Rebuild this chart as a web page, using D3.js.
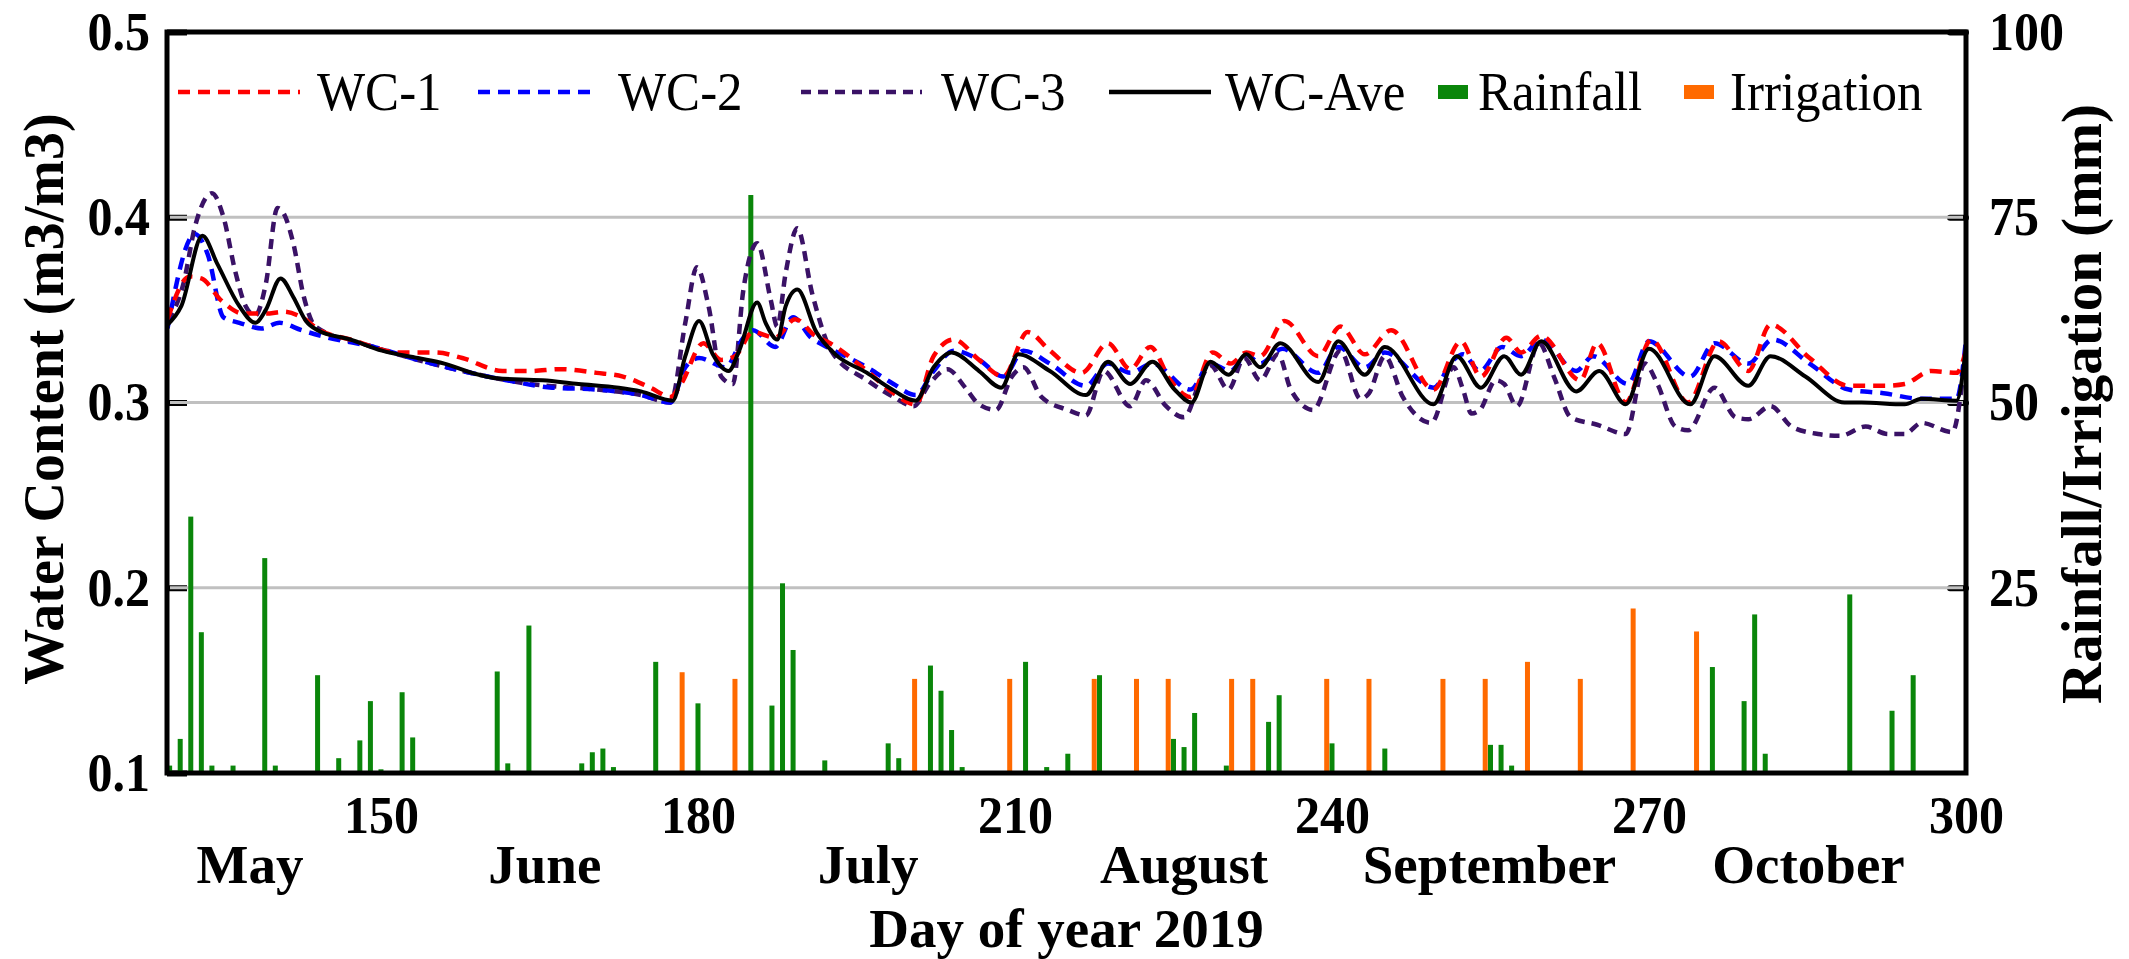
<!DOCTYPE html>
<html><head><meta charset="utf-8">
<script src="https://cdn.jsdelivr.net/npm/d3@7"></script>
<style>html,body{margin:0;padding:0;background:#fff;} svg{display:block;}</style>
</head><body>
<svg id="chart" width="2129" height="959"></svg>
<script>
// ---------------- DATA ----------------
const wcAveDays = [129.8,131.1,133.1,134.5,136.6,138.1,139.1,140.5,141.7,142.9,144,147.1,150.1,153.5,156,158.6,161.1,165.3,168.7,172.5,174.6,177.6,178.8,180.1,181.4,182.9,183.9,185.6,186.4,187.5,188.3,189.4,191.2,193,196,198.1,200.6,202.3,204,206.6,208.7,210.3,213.3,216.7,218.8,220.9,223,225.1,226.7,228.5,230.2,231.9,233.2,235.1,238.7,240.6,243.1,245,249.6,251.8,254.1,256.3,257.9,259.8,263.1,265.3,267.8,270,273.9,276.2,279.4,281.5,284.8,288.5,290.1,294.2,295.8,299.1,300];
const wcAve = [0.342,0.352,0.390,0.375,0.352,0.343,0.350,0.367,0.357,0.344,0.339,0.334,0.328,0.324,0.321,0.316,0.313,0.312,0.310,0.308,0.306,0.301,0.325,0.344,0.326,0.317,0.328,0.354,0.343,0.334,0.352,0.361,0.338,0.326,0.316,0.308,0.301,0.319,0.327,0.317,0.308,0.326,0.317,0.304,0.322,0.310,0.322,0.307,0.300,0.322,0.315,0.326,0.319,0.332,0.311,0.333,0.315,0.330,0.299,0.325,0.308,0.325,0.315,0.333,0.306,0.317,0.299,0.329,0.299,0.325,0.309,0.325,0.314,0.300,0.300,0.299,0.302,0.301,0.330];

const wc1Days = [129.8,131.9,133,134.9,137,139.1,140.8,142.5,144.2,147.1,151.8,155.2,157.7,161.5,164.1,167,170.4,172.9,175.5,177.4,178.4,180.5,182.2,183.5,185.2,187.3,189.2,191.1,192.5,196,198.5,200.6,202.3,204.2,206.6,208.9,211.2,213.3,216.3,218.8,220.9,222.8,224.7,226.6,228.7,230.4,231.9,233.2,235.5,238.7,240.8,243.1,245.6,249.6,252.2,254.1,256.5,257.9,259.8,263.5,265.1,267.8,270.2,273.7,276.6,279.4,281.5,285.2,288.9,292.2,294.2,296.7,299.1,300];
const wc1 = [0.345,0.368,0.367,0.355,0.348,0.348,0.349,0.346,0.339,0.334,0.327,0.327,0.324,0.317,0.317,0.318,0.316,0.314,0.308,0.303,0.310,0.332,0.323,0.325,0.338,0.335,0.345,0.336,0.332,0.317,0.305,0.299,0.325,0.334,0.323,0.314,0.338,0.328,0.316,0.332,0.318,0.330,0.312,0.303,0.327,0.321,0.327,0.325,0.344,0.325,0.341,0.326,0.339,0.307,0.333,0.314,0.335,0.327,0.336,0.312,0.332,0.300,0.334,0.300,0.333,0.317,0.342,0.324,0.309,0.309,0.310,0.317,0.316,0.328];

const wc2Days = [129.8,132.4,133.6,135.1,136.6,138.7,140.4,142.5,145,149.3,153.5,157.7,161.9,166.2,170.4,174.6,177.4,178.8,180.1,182.6,184.3,185.2,187.3,189,190.7,192.2,196,198.5,200.6,202.3,204.2,206.6,208.9,210.8,213.3,216.7,218.8,220.9,223,226.6,228.5,230.4,231.9,233.2,235.3,238.7,240.6,243.1,245,249.6,251.5,252.4,254,256.1,257.9,259.8,263.1,264.7,268,270,273.9,276.2,279.4,281.7,285.2,288.9,292.2,295.8,299.1,300];
const wc2 = [0.340,0.391,0.380,0.346,0.343,0.340,0.343,0.339,0.335,0.330,0.323,0.317,0.312,0.308,0.307,0.304,0.300,0.319,0.324,0.319,0.335,0.339,0.330,0.346,0.335,0.330,0.319,0.310,0.304,0.317,0.328,0.323,0.314,0.328,0.321,0.309,0.321,0.316,0.321,0.307,0.321,0.317,0.326,0.321,0.329,0.316,0.330,0.319,0.327,0.308,0.323,0.326,0.317,0.330,0.325,0.334,0.317,0.325,0.310,0.333,0.314,0.332,0.321,0.334,0.321,0.307,0.305,0.302,0.302,0.334];

const wc3Days = [129.8,131.3,132.4,134,135.1,136.2,137.2,138.1,139.1,140.2,140.8,141.7,142.7,143.8,149.3,157.7,164.1,170.4,174.6,177.4,178.8,179.9,181,182.2,183.3,184.3,185.6,186.9,187.5,188.3,189.4,190.8,192.6,196,198.5,200.4,201.9,203.6,205.3,206.6,208.2,209.7,210.8,212.5,215,216.7,218.4,220.9,222.4,224.3,226,227.7,228.5,230.2,231.7,233.2,234.9,236.1,238.2,240.8,242.7,243.5,245,246.7,249.4,251.5,252.4,253.2,254,255.5,256.3,257.5,259.6,261,262.6,265.1,267.8,269.6,270.8,272.5,273.7,276.2,278.2,279.4,281.5,283.5,286,288.1,290.5,292.6,294.2,295.8,298.7,300];
const wc3 = [0.344,0.364,0.395,0.413,0.400,0.371,0.352,0.347,0.364,0.405,0.402,0.386,0.357,0.341,0.330,0.317,0.310,0.307,0.304,0.300,0.343,0.373,0.352,0.314,0.310,0.361,0.386,0.355,0.341,0.370,0.394,0.359,0.328,0.312,0.303,0.298,0.310,0.318,0.308,0.299,0.296,0.314,0.319,0.303,0.296,0.293,0.317,0.298,0.312,0.298,0.292,0.314,0.320,0.307,0.324,0.312,0.326,0.307,0.296,0.328,0.302,0.305,0.325,0.303,0.289,0.319,0.307,0.294,0.296,0.312,0.310,0.298,0.332,0.314,0.292,0.288,0.283,0.321,0.310,0.287,0.285,0.308,0.292,0.291,0.298,0.287,0.283,0.282,0.287,0.283,0.283,0.289,0.284,0.330];

const rainDays = [130,131,132,133,134,136,139,140,143,144,146,148,149,150,152,153,161,162,163,164,165,168,169,170,171,172,176,180,185,186,187,188,189,192,193,197,198,199,202,203,204,205,211,213,214,215,218,225,226,227,230,231,234,235,240,245,246,255,256,257,259,276,279,280,281,289,293,295];
const rainMm = [1.0,4.6,34.6,19.0,1.0,1.0,29.0,1.0,0.2,13.2,2.0,4.4,9.7,0.5,10.9,4.8,13.7,1.3,0.2,19.9,0.2,0.2,1.3,2.8,3.3,0.8,15.0,9.4,78.0,0.2,9.1,25.6,16.6,1.7,0.2,0.2,4.0,2.0,14.5,11.1,5.8,0.8,15.0,0.8,0.2,2.6,13.2,4.6,3.5,8.1,1.0,0.2,6.9,10.5,4.0,3.3,0.2,3.8,3.8,1.0,0.2,14.3,9.7,21.4,2.6,24.1,8.4,13.2];

const irrDays = [178,183,200,209,217,221,224,230,232,239,243,250,254,258,263,268,274];
const irrMm = [13.6,12.7,12.7,12.7,12.7,12.7,12.7,12.7,12.7,12.7,12.7,12.7,12.7,15.0,12.7,22.2,19.1];

const xTicks = [150,180,210,240,270,300];
const yLeftTicks = [0.1,0.2,0.3,0.4,0.5];
const yRightTicks = [25,50,75,100];
const monthNames = ["May","June","July","August","September","October"];
const monthDays = [137.6,165.5,196.1,226,254.9,285.1];

// ---------------- LAYOUT ----------------
const W = 2129, H = 959;
const M = {left:167, right:163, top:32, bottom:186};
const FONT = '"Liberation Serif","Times New Roman",serif';
const C = {wc1:"#ff0000", wc2:"#0000ff", wc3:"#3a1266", ave:"#000000", rain:"#0a860a", irr:"#ff6a00", grid:"#c0c0c0"};

const svg = d3.select("#chart");
svg.append("rect").attr("width",W).attr("height",H).attr("fill","#fff");

const x = d3.scaleLinear().domain([129.75,300]).range([M.left, W-M.right]);
const yL = d3.scaleLinear().domain([0.1,0.5]).range([H-M.bottom, M.top]);
const yR = d3.scaleLinear().domain([0,100]).range([H-M.bottom, M.top]);
const x0 = M.left, x1 = W-M.right, yTop = M.top, yBot = H-M.bottom;

// left axis (ticks inside)
const gL = svg.append("g").attr("transform",`translate(${x0},0)`)
  .call(d3.axisLeft(yL).tickValues(yLeftTicks).tickFormat(d3.format(".1f")).tickSizeInner(-20).tickSizeOuter(0).tickPadding(17));
gL.select(".domain").remove();
gL.selectAll(".tick line").attr("stroke","#000").attr("stroke-width",6);
gL.selectAll(".tick text").attr("font-family",FONT).attr("font-weight","bold").attr("font-size",50).attr("fill","#000")
  .attr("transform","scale(1,1.09)");

// right axis
const gR = svg.append("g").attr("transform",`translate(${x1},0)`)
  .call(d3.axisRight(yR).tickValues(yRightTicks).tickSizeInner(-16).tickSizeOuter(0).tickPadding(23));
gR.select(".domain").remove();
gR.selectAll(".tick line").attr("stroke","#000").attr("stroke-width",6).attr("stroke-linecap","round");
gR.selectAll(".tick text").attr("font-family",FONT).attr("font-weight","bold").attr("font-size",50).attr("fill","#000")
  .attr("transform","scale(1,1.09)");

// gridlines
svg.append("g").selectAll("line").data([0.2,0.3,0.4]).join("line")
  .attr("x1",x0+3).attr("x2",x1-3).attr("y1",d=>yL(d)).attr("y2",d=>yL(d))
  .attr("stroke",C.grid).attr("stroke-width",3);

// bottom axis labels
const gB = svg.append("g").attr("transform",`translate(0,${yBot})`)
  .call(d3.axisBottom(x).tickValues(xTicks).tickSize(0).tickPadding(21));
gB.select(".domain").remove();
gB.selectAll(".tick text").attr("font-family",FONT).attr("font-weight","bold").attr("font-size",50).attr("fill","#000")
  .attr("transform","scale(1,1.06)");

// bars
const bw = 5;
svg.append("g").selectAll("rect").data(d3.zip(rainDays, rainMm)).join("rect")
  .attr("x",d=>x(d[0])-bw/2).attr("width",bw)
  .attr("y",d=>yR(d[1])).attr("height",d=>yR(0)-yR(d[1]))
  .attr("fill",C.rain);
svg.append("g").selectAll("rect").data(d3.zip(irrDays, irrMm)).join("rect")
  .attr("x",d=>x(d[0]+0.5)-bw/2).attr("width",bw)
  .attr("y",d=>yR(d[1])).attr("height",d=>yR(0)-yR(d[1]))
  .attr("fill",C.irr);

// lines
const line = d3.line().x(d=>x(d[0])).y(d=>yL(d[1])).curve(d3.curveMonotoneX);
const series = [
  {days:wc3Days, vals:wc3, color:C.wc3, dash:"10,7", w:4.5},
  {days:wc2Days, vals:wc2, color:C.wc2, dash:"12,8", w:4.5},
  {days:wc1Days, vals:wc1, color:C.wc1, dash:"12,8", w:4.5},
  {days:wcAveDays, vals:wcAve, color:C.ave, dash:null, w:4}
];
series.forEach(s=>{
  svg.append("path").datum(d3.zip(s.days,s.vals)).attr("d",line)
    .attr("fill","none").attr("stroke",s.color).attr("stroke-width",s.w)
    .attr("stroke-dasharray",s.dash).attr("stroke-linejoin","round");
});

// frame
svg.append("rect").attr("x",x0).attr("y",yTop).attr("width",x1-x0).attr("height",yBot-yTop)
  .attr("fill","none").attr("stroke","#000").attr("stroke-width",5);

// month labels
svg.append("g").selectAll("text").data(d3.zip(monthNames, monthDays)).join("text")
  .attr("x",d=>x(d[1])).attr("y",883).attr("text-anchor","middle")
  .attr("font-family",FONT).attr("font-weight","bold").attr("font-size",55).text(d=>d[0]);

// axis titles
svg.append("text").attr("x",(x0+x1)/2).attr("y",947).attr("text-anchor","middle")
  .attr("font-family",FONT).attr("font-weight","bold").attr("font-size",55).text("Day of year 2019");
svg.append("text").attr("transform",`translate(63,399) rotate(-90)`).attr("text-anchor","middle")
  .attr("font-family",FONT).attr("font-weight","bold").attr("font-size",56).text("Water Content (m3/m3)");
svg.append("text").attr("transform",`translate(2101,404) rotate(-90)`).attr("text-anchor","middle")
  .attr("font-family",FONT).attr("font-weight","bold").attr("font-size",57).text("Rainfall/Irrigation (mm)");

// legend
const legY = 92, legBase = 110;
const legItems = [
  {label:"WC-1", type:"line", color:C.wc1, dash:"12,8", lx:178, lw:122, tx:317},
  {label:"WC-2", type:"line", color:C.wc2, dash:"12,8", lx:478, lw:120, tx:618},
  {label:"WC-3", type:"line", color:C.wc3, dash:"10,7", lx:801, lw:121, tx:941},
  {label:"WC-Ave", type:"line", color:C.ave, dash:null, lx:1109, lw:102, tx:1225},
  {label:"Rainfall", type:"rect", color:C.rain, lx:1438, lw:30, tx:1478},
  {label:"Irrigation", type:"rect", color:C.irr, lx:1684, lw:30, tx:1730}
];
const lg = svg.append("g");
legItems.forEach(it=>{
  if (it.type==="line") {
    lg.append("line").attr("x1",it.lx).attr("x2",it.lx+it.lw).attr("y1",legY).attr("y2",legY)
      .attr("stroke",it.color).attr("stroke-width",4.5).attr("stroke-dasharray",it.dash);
  } else {
    lg.append("rect").attr("x",it.lx).attr("y",legY-7).attr("width",it.lw).attr("height",14).attr("fill",it.color);
  }
  lg.append("text").attr("transform",`translate(${it.tx},${legBase}) scale(1,1.08)`)
    .attr("font-family",FONT).attr("font-size",51).text(it.label);
});
</script>
</body></html>
